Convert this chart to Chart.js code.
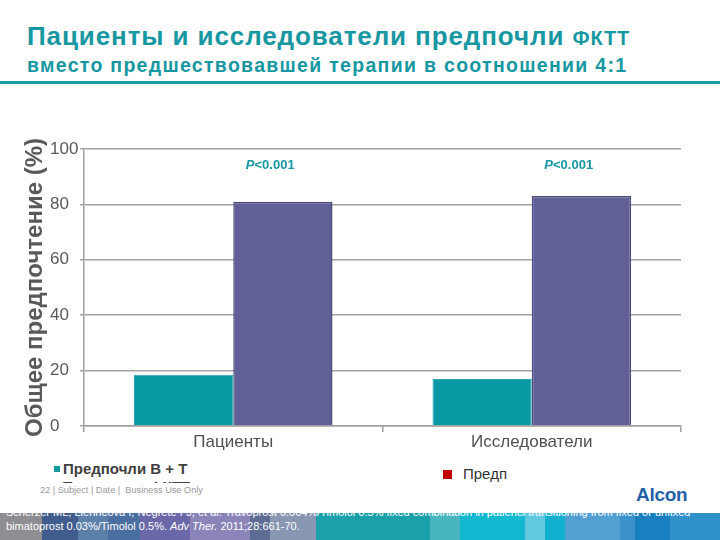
<!DOCTYPE html>
<html>
<head>
<meta charset="utf-8">
<script src="https://cdn.jsdelivr.net/npm/chart.js@4.4.1/dist/chart.umd.min.js"></script>
<style>
 html, body {margin:0; padding:0; background:#fff;}
 #page {position:relative; width:720px; height:540px; overflow:hidden; font-family:"Liberation Sans", Arial, sans-serif;}
 #title1 {position:absolute; left:27px; top:21px; font-size:26px; font-weight:bold; color:#1797a1; white-space:nowrap; letter-spacing:0.9px;}
 #title1 span {font-size:20px;}
 #title2 {position:absolute; left:27px; top:54px; font-size:19.5px; font-weight:bold; color:#1797a1; white-space:nowrap; letter-spacing:1.3px;}
 #rule {position:absolute; left:0; top:81px; width:720px; height:3px; background:#1a9ba6;}
 #chartbox {position:absolute; left:0; top:120px; width:720px; height:340px;}
 #legend1 {position:absolute; left:54px; top:460px; height:23px; overflow:hidden; font-size:15px; font-weight:bold; color:#404040; line-height:18px;}
 #legend1 i {display:inline-block; width:6px; height:6px; background:#159a9e; margin-right:3px; vertical-align:2px;}
 #legend2 {position:absolute; left:443px; top:466px; font-size:15px; color:#333; line-height:16px;}
 #legend2 i {display:inline-block; width:9px; height:9px; background:#c00000; margin-right:11px; vertical-align:0px;}
 #footer {position:absolute; left:40px; top:485px; font-size:9.2px; color:#9a9a9a; white-space:nowrap;}
 #logo {position:absolute; left:636px; top:484px; font-size:19px; font-weight:bold; color:#245ea6; letter-spacing:-0.3px;}
 #band {position:absolute; left:0; top:513px; width:720px; height:27px;
  background:linear-gradient(to right,
   #8e8e92 0px, #8e8e92 42px, #3f5c8c 42px, #3f5c8c 78px, #5b80aa 78px, #5b80aa 108px,
   #4a6ea0 108px, #4a6ea0 140px, #6a68a8 140px, #6a68a8 190px, #8a84b8 190px, #8a84b8 250px,
   #5c6c92 250px, #5c6c92 270px, #8898b2 270px, #8898b2 316px, #1aa0a8 316px, #1aa0a8 430px,
   #48b6bf 430px, #48b6bf 460px, #12b8d0 460px, #12b8d0 525px, #62c8e0 525px, #62c8e0 545px,
   #12b0d0 545px, #12b0d0 565px, #52a0d2 565px, #52a0d2 620px, #3a90c8 620px, #3a90c8 635px,
   #1880c0 635px, #1880c0 670px, #3090c8 670px, #3090c8 720px);}
 #cite {position:absolute; left:6px; top:505px; font-size:11px; line-height:14px; color:#fff; white-space:nowrap;}
</style>
</head>
<body>
<div id="page">
 <div id="title1">Пациенты и исследователи предпочли <span>ФКТТ</span></div>
 <div id="title2">вместо предшествовавшей терапии в соотношении 4:1</div>
 <div id="rule"></div>

 <div id="chartbox"><canvas id="chart" width="720" height="340"></canvas></div>

 <div id="legend1"><i></i>Предпочли В + Т<br>&nbsp;&nbsp;Предпочли ФКТТ</div>
 <div id="legend2"><i></i>Предп</div>

 <div id="footer">22 | Subject | Date |&nbsp; Business Use Only</div>
 <div id="logo">Alcon</div>

 <div id="band"></div>
 <div id="cite">Scherzer ML, Liehneova I, Negrete FJ, et al. Travoprost 0.004%/Timolol 0.5% fixed combination in patients transitioning from fixed or unfixed<br>bimatoprost 0.03%/Timolol 0.5%. <i>Adv Ther.</i> 2011;28:661-70.</div>
</div>

<script>
// DATA
var categories = ["Пациенты", "Исследователи"];
var series_bt  = [18.5, 17];
var series_fk  = [81, 83];
var pvalues    = ["<0.001", "<0.001"];
var ticks_y    = [0, 20, 40, 60, 80, 100];

var names      = ["Предпочли В + Т", "Предпочли ФКТТ"];


// P-VALUE LABELS
var pvalue_plugin =
{
 id: "pvalues",
 afterDatasetsDraw: function(chart)
 {
  var ctx = chart.ctx;
  var x_scale = chart.scales.x;
  var y_scale = chart.scales.y;

  ctx.save();
  ctx.fillStyle    = "#1797a1";
  ctx.textBaseline = "middle";

  for(var i = 0; i < pvalues.length; i++)
  {
   var x = x_scale.getPixelForValue(i) + 37;
   var y = y_scale.getPixelForValue(94.2);

   ctx.font    = "italic bold 13px 'Liberation Sans', Arial";
   var w1      = ctx.measureText("P").width;
   ctx.font    = "bold 13px 'Liberation Sans', Arial";
   var w2      = ctx.measureText(pvalues[i]).width;
   var left    = x - (w1 + w2) / 2;

   ctx.textAlign = "left";
   ctx.font      = "italic bold 13px 'Liberation Sans', Arial";
   ctx.fillText("P", left, y);
   ctx.font      = "bold 13px 'Liberation Sans', Arial";
   ctx.fillText(pvalues[i], left + w1, y);
  }

  ctx.restore();
 }
};


// CHART CONFIG
var config =
{
 type: "bar",
 data:
 {
  labels: categories,
  datasets:
  [
   {label: names[0], data: series_bt, backgroundColor: "#0a9aa6", borderColor: "#2aa8b2", borderWidth: 1},
   {label: names[1], data: series_fk, backgroundColor: "#605f98", borderColor: "#4c4b7e", borderWidth: 1.5}
  ]
 },
 options:
 {
  responsive: false,
  animation:  false,
  layout:     {padding: {left: 50, right: 39, top: 29, bottom: 0}},
  datasets:   {bar: {categoryPercentage: 0.665, barPercentage: 1}},
  plugins:    {legend: {display: false}, tooltip: {enabled: false}},
  scales:
  {
   x:
   {
    grid:   {drawOnChartArea: false, drawTicks: true, tickLength: 6, color: "#a0a0a0", lineWidth: 1.5},
    border: {display: true, color: "#a0a0a0", width: 1.5},
    ticks:  {color: "#505050", font: {family: "'Liberation Sans', Arial", size: 17}, padding: 0},
    afterFit: function(scale) { scale.height = 34; }
   },
   y:
   {
    min: 0,
    max: 100,
    afterBuildTicks: function(scale) { scale.ticks = ticks_y.map(function(v) { return {value: v}; }); },
    grid:   {color: "#a3a3a3", lineWidth: 1.5, tickLength: 4},
    border: {display: true, color: "#a0a0a0", width: 1.5},
    ticks:  {color: "#595959", crossAlign: "far", font: {family: "'Liberation Sans', Arial", size: 17}},
    title:
    {
     display: true,
     text:    "Общее предпочтение (%)",
     color:   "#595959",
     font:    {family: "'Liberation Sans', Arial", size: 24, weight: "bold"},
     padding: {top: -29, bottom: 0}
    },
    afterFit: function(scale) { scale.width = 34; }
   }
  }
 },
 plugins: [pvalue_plugin]
};

var canvas  = document.getElementById("chart");
var context = canvas.getContext("2d");
var chart   = new Chart(context, config);
</script>
</body>
</html>
